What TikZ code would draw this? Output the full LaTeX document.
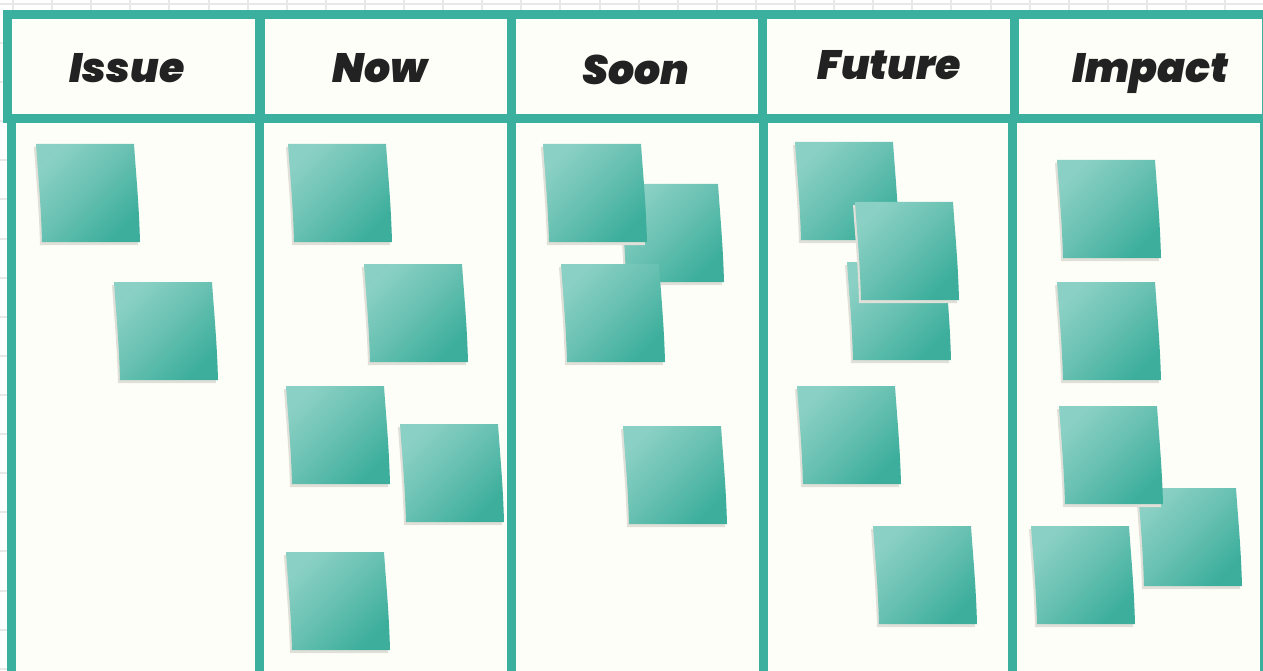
\documentclass[tikz,border=0pt]{standalone}
\usepackage{fontspec}
\newfontfamily\headfont{Poppins}[BoldItalicFont={* Black Italic}]
\definecolor{teal}{HTML}{3BB09F}
\definecolor{paper}{HTML}{FDFEF8}
\definecolor{gridline}{HTML}{E8E8E8}
\definecolor{notelight}{HTML}{8AD0C4}
\definecolor{notemid}{HTML}{66C0B1}
\definecolor{notedark}{HTML}{3DAE9C}
\definecolor{noteshadow}{HTML}{E0E0D8}
\definecolor{ink}{HTML}{222222}
\tikzset{
  bar/.style={fill=teal},
  heading/.style={font=\headfont\bfseries\itshape\fontsize{41}{41}\selectfont, text=ink, inner sep=0pt, anchor=base},
  sticky/.pic={
    \fill[noteshadow] (-2,3) -- (96,3) .. controls (98,33) and (101,63) .. (102,101)
      -- (4,101) .. controls (3,63) and (0,33) .. (-2,3) -- cycle;
    \shade[top color=notelight, bottom color=notedark, middle color=notemid, shading angle=45]
      (0,0) -- (98,0) .. controls (100,30) and (103,60) .. (104,98)
      -- (6,98) .. controls (5,60) and (2,30) .. (0,0) -- cycle;
  }
}
\begin{document}
\begin{tikzpicture}[x=1pt,y=-1pt]
\useasboundingbox (0,0) rectangle (1263,671);
% squared paper behind the board
\fill[white] (0,0) rectangle (1263,671);
\begin{scope}
  \clip (0,0) rectangle (1263,671);
  \foreach \gx in {0,...,32} \draw[gridline, line width=2pt] ({13+39.1*\gx},0) -- ({13+39.1*\gx},671);
  \foreach \gy in {0,...,17} \draw[gridline, line width=2pt] (0,{4+39.1*\gy}) -- (1263,{4+39.1*\gy});
\end{scope}
% board surfaces
\fill[paper] (3,10) rectangle (1263,123);
\fill[paper] (7,118) rectangle (1263,671);
% header frame
\fill[bar] (3,10) rectangle (1263,19);
\fill[bar] (3,114) rectangle (1263,123);
\fill[bar] (3,10) rectangle (12,123);
\fill[bar] (255,10) rectangle (265,123);
\fill[bar] (507,10) rectangle (516,123);
\fill[bar] (758,10) rectangle (767,123);
\fill[bar] (1010,10) rectangle (1019,123);
\fill[bar] (1262,10) rectangle (1263,123);
% column dividers
\fill[bar] (7,123) rectangle (16,671);
\fill[bar] (255,123) rectangle (264,671);
\fill[bar] (507,123) rectangle (516,671);
\fill[bar] (759,123) rectangle (768,671);
\fill[bar] (1008,123) rectangle (1017,671);
\fill[bar] (1260,123) rectangle (1263,671);
% column headings
\node[heading] (hIssue) at (127,83) {Issue};
\node[heading] (hNow) at (380,83) {Now};
\node[heading] (hSoon) at (636,85) {Soon};
\node[heading] (hFuture) at (889,80) {Future};
\node[heading] (hImpact) at (1150,83) {Impact};
% Issue
\pic at (36,144) {sticky};
\pic at (114,282) {sticky};
% Now
\pic at (288,144) {sticky};
\pic at (364,264) {sticky};
\pic at (286,386) {sticky};
\pic at (400,424) {sticky};
\pic at (286,552) {sticky};
% Soon
\pic at (620,184) {sticky};
\pic at (543,144) {sticky};
\pic at (561,264) {sticky};
\pic at (623,426) {sticky};
% Future
\pic at (795,142) {sticky};
\pic at (847,262) {sticky};
\pic at (855,202) {sticky};
\pic at (797,386) {sticky};
\pic at (873,526) {sticky};
% Impact
\pic at (1057,160) {sticky};
\pic at (1057,282) {sticky};
\pic at (1138,488) {sticky};
\pic at (1059,406) {sticky};
\pic at (1031,526) {sticky};
\end{tikzpicture}
\end{document}
